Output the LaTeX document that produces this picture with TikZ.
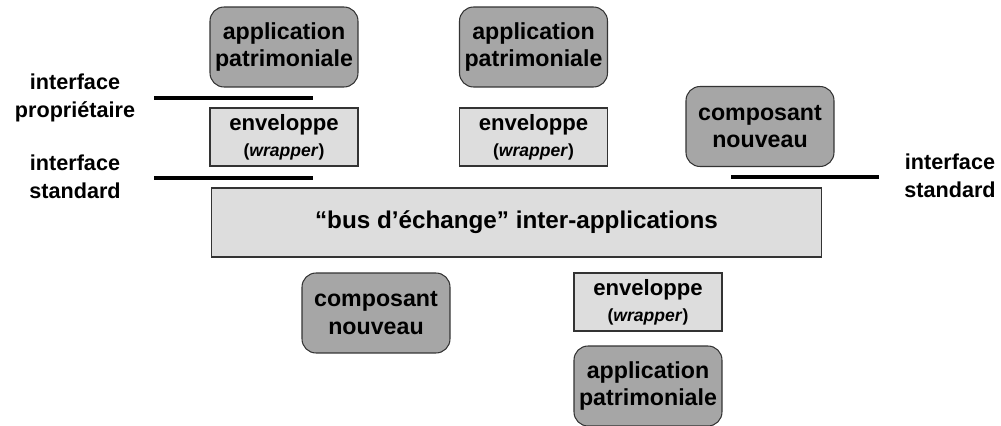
\documentclass[tikz,border=0pt]{standalone}
\usepackage{fontspec}
\setmainfont{Liberation Sans}
\definecolor{appgray}{RGB}{166,166,166}
\definecolor{wrapgray}{RGB}{221,221,221}
\tikzset{
    appbox/.style={draw=black!80, line width=0.6pt, fill=appgray,
        rounded corners=0.28cm, minimum width=2.96cm, minimum height=1.6cm,
        inner sep=0pt, align=center, font=\fontsize{13.2}{15.5}\selectfont\bfseries},
    wrapbox/.style={draw=black!80, line width=0.6pt, fill=wrapgray,
        minimum width=2.96cm, minimum height=1.16cm,
        inner sep=0pt, align=center, font=\fontsize{12.6}{14}\selectfont\bfseries},
    iflabel/.style={inner sep=0pt, align=center,
        font=\fontsize{12.3}{16}\selectfont\bfseries},
    ifline/.style={line width=2.3pt},
}
\newcommand{\wrapText}{enveloppe\\[1pt]{\fontsize{10}{12}\selectfont(\textit{wrapper})}}

\begin{document}
\begin{tikzpicture}[x=0.02cm, y=-0.02cm]
    \useasboundingbox (0,0) rectangle (1001,426);
    % exchange bus
    \node[wrapbox, minimum width=12.22cm, minimum height=1.38cm,
          font=\fontsize{13.8}{16}\selectfont\bfseries] (bus) at (516.5,222.5)
        {“bus d’échange” inter-applications};
    % above the bus
    \node[appbox]  (appA)  at (284,47)    {application\\patrimoniale};
    \node[wrapbox] (wrapA) at (284,137)   {\wrapText};
    \node[appbox]  (appB)  at (533.5,47)  {application\\patrimoniale};
    \node[wrapbox] (wrapB) at (533.5,137) {\wrapText};
    \node[appbox]  (compA) at (760,126.5) {composant\\nouveau};
    % below the bus
    \node[appbox]  (compB) at (376,313)   {composant\\nouveau};
    \node[wrapbox] (wrapC) at (648,302)   {\wrapText};
    \node[appbox]  (appC)  at (648,386)   {application\\patrimoniale};
    % interfaces
    \node[iflabel] (propL) at (75,98)  {interface\\propriétaire};
    \node[iflabel] (stdL)  at (75,177) {interface\\standard};
    \node[iflabel] (stdR)  at (950,176) {interface\\standard};
    \coordinate (propA) at (154,98);  \coordinate (propB) at (313,98);
    \coordinate (stdA)  at (154,178); \coordinate (stdB)  at (313,178);
    \coordinate (stdC)  at (731,177); \coordinate (stdD)  at (879,177);
    \draw[ifline] (propA) -- (propB);
    \draw[ifline] (stdA) -- (stdB);
    \draw[ifline] (stdC) -- (stdD);
\end{tikzpicture}
\end{document}
